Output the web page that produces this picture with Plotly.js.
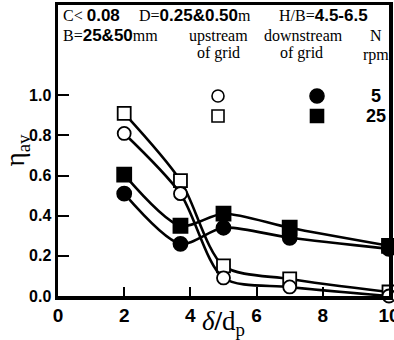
<!DOCTYPE html>
<html><head><meta charset="utf-8">
<script src="https://cdn.plot.ly/plotly-3.0.1.min.js"></script>
<style>body{margin:0;background:#fff}#c{width:394px;height:340px}</style>
</head><body><div id="c"></div>
<script>
// delta/dp positions
const xVals = [2, 3.7, 5, 7, 10];
// upstream of grid, N=5 rpm (open circles)
const upstream5 = [0.81, 0.51, 0.09, 0.045, 0.0];
// upstream of grid, N=25 rpm (open squares)
const upstream25 = [0.91, 0.575, 0.15, 0.085, 0.02];
// downstream of grid, N=5 rpm (filled circles)
const downstream5 = [0.51, 0.26, 0.34, 0.29, 0.235];
// downstream of grid, N=25 rpm (filled squares)
const downstream25 = [0.605, 0.35, 0.41, 0.34, 0.25];
const xTicks = [0, 2, 4, 6, 8, 10];
const yTicks = [0, 0.2, 0.4, 0.6, 0.8, 1.0];

const bold = "Liberation Sans, Arial, sans-serif";
const serif = "Liberation Serif, DejaVu Serif, serif";

function tr(y, symbol, filled, size) {
  return {
    x: xVals, y: y, type: 'scatter', mode: 'lines+markers',
    line: {color: '#000', width: 2.6, shape: 'spline', smoothing: 0.8},
    marker: {symbol: symbol, size: size, color: filled ? '#000' : '#fff',
             line: {color: '#000', width: 1.8}},
    cliponaxis: false, showlegend: false
  };
}
const data = [
  tr(upstream25, 'square', false, 13),
  tr(upstream5, 'circle', false, 13),
  tr(downstream25, 'square', true, 14),
  tr(downstream5, 'circle', true, 14)
];

function px(x){return (x-58)/331;}
function py(y){return (296-y)/291;}
function glyph(type, cx, cy, filled, r){
  return {type: type, xref:'paper', yref:'paper', xsizemode:'pixel', ysizemode:'pixel',
    xanchor: px(cx), yanchor: py(cy), x0:-r, x1:r, y0:-r, y1:r,
    fillcolor: filled?'#000':'#fff', line:{color:'#000', width:1.6}};
}
function ann(text, x, y, xanchor, font){
  return {text: text, xref:'paper', yref:'paper', x: px(x), y: py(y), xanchor: xanchor, yanchor:'middle',
    showarrow:false, font: font};
}
const B = (t) => '<span style="font-family:'+bold+';font-weight:bold;font-size:17px">'+t+'</span>';
const fs = {family: serif, size: 16, color:'#000'};
const fb = {family: bold, size: 18, color:'#000'};
const annotations = [
  ann('C&lt; ' + B('0.08'), 61, 16, 'left', fs),
  ann('D=' + B('0.25&amp;0.50') + 'm', 137, 16, 'left', fs),
  ann('H/B=' + B('4.5-6.5'), 277, 16, 'left', fs),
  ann('B=' + B('25&amp;50') + 'mm', 61, 36, 'left', fs),
  ann('upstream', 218, 36, 'center', fs),
  ann('of grid', 218, 53, 'center', fs),
  ann('downstream', 303, 36, 'center', fs),
  ann('of grid', 301, 53, 'center', fs),
  ann('N', 376, 36, 'center', fs),
  ann('rpm', 376, 55, 'center', fs),
  ann('<b>5</b>', 376, 96, 'center', fb),
  ann('<b>25</b>', 376, 116, 'center', fb)
];
const shapes = [
  glyph('circle', 218, 96, false, 6),
  glyph('circle', 317, 96, true, 7),
  glyph('rect', 218, 116, false, 6),
  glyph('rect', 317, 116, true, 6.5)
];

const layout = {
  width: 394, height: 340,
  margin: {l: 58, r: 5, t: 5, b: 44},
  paper_bgcolor: '#fff', plot_bgcolor: '#fff',
  xaxis: {range: [0, 10], tickvals: xTicks, ticktext: xTicks.map(v=>'<b>'+v+'</b>'),
    ticks: 'inside', ticklen: 9, tickwidth: 2, tickcolor: '#000',
    showline: true, linewidth: 3.5, linecolor: '#000', mirror: true,
    showgrid: false, zeroline: false, ticklabeloverflow: 'allow', automargin: false,
    tickfont: {family: bold, size: 19, color: '#000'},
    title: {text: '<i>δ</i><b>/</b>d<sub>p</sub>', font: {family: serif, size: 27, color: '#000'}, standoff: 0}},
  yaxis: {range: [0, 1.45], tickvals: yTicks, ticktext: yTicks.map(v=>'<b>'+v.toFixed(1)+'</b>'),
    ticks: 'inside', ticklen: 11, tickwidth: 2, tickcolor: '#000',
    showline: true, linewidth: 3.5, linecolor: '#000', mirror: true,
    showgrid: false, zeroline: false, automargin: false,
    tickfont: {family: bold, size: 16, color: '#000'},
    title: {text: 'η<sub>av</sub>', font: {family: serif, size: 27, color: '#000'}, standoff: 0}},
  annotations: annotations, shapes: shapes, showlegend: false
};
Plotly.newPlot('c', data, layout, {displayModeBar: false, staticPlot: true});
</script></body></html>
